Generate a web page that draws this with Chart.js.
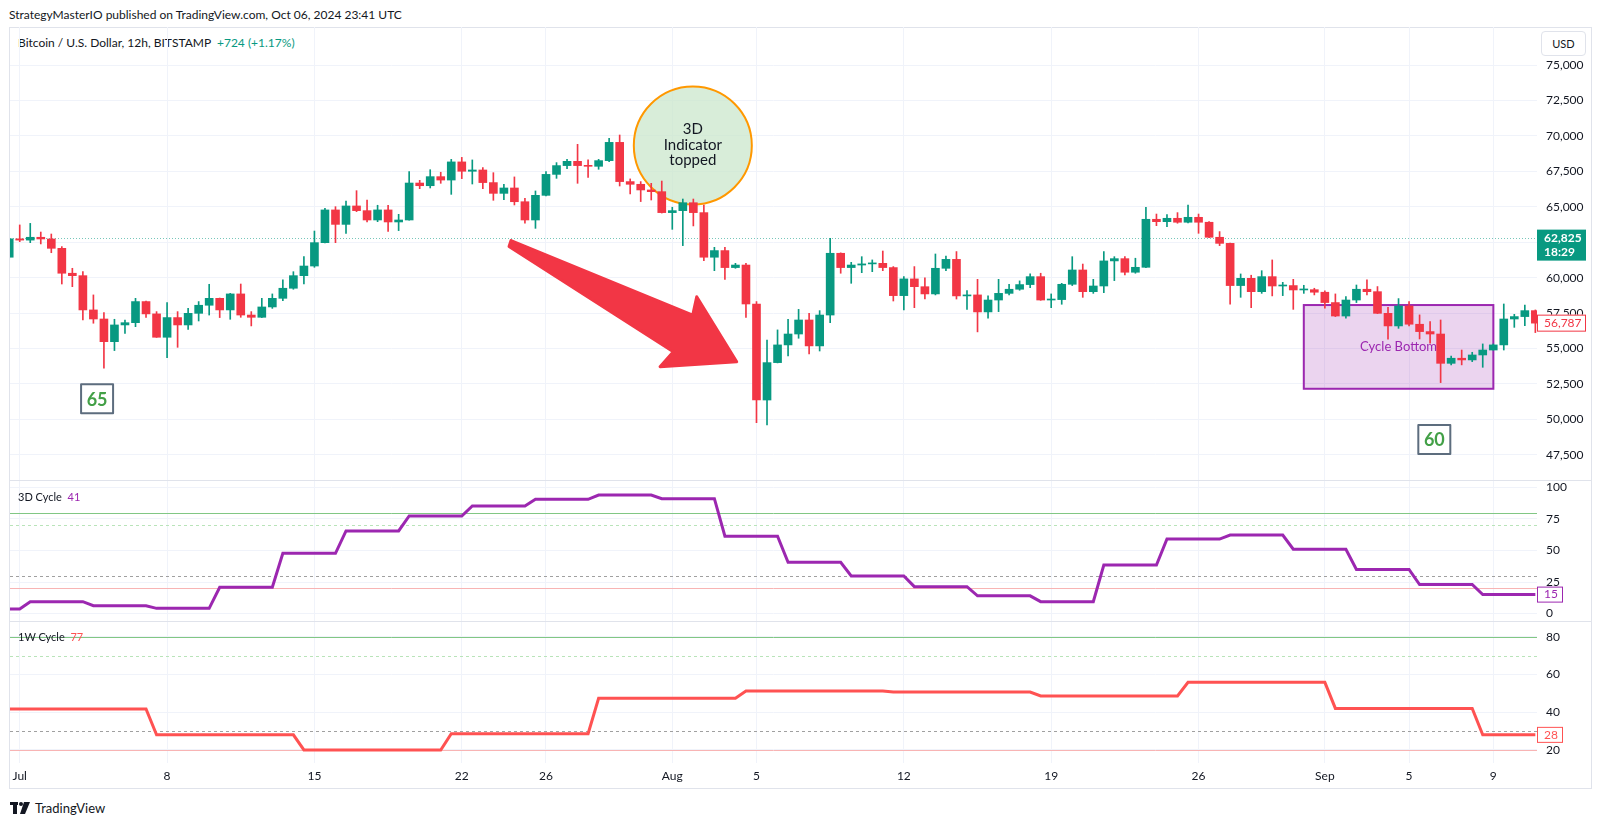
<!DOCTYPE html>
<html>
<head>
<meta charset="utf-8">
<script src="https://cdn.jsdelivr.net/npm/chart.js@4.4.1/dist/chart.umd.min.js"></script>
<style>
  body { margin: 0; width: 1600px; height: 825px; background: #fff; position: relative; overflow: hidden;
         font-family: Lato, "Noto Sans", sans-serif; color: #131722; }
  canvas { position: absolute; left: 0; }
  .txt { position: absolute; white-space: nowrap; font-size: 12px; line-height: 16px; }
  .line { position: absolute; background: #e0e3eb; }
  #usd { position: absolute; left: 1541px; top: 31px; width: 43px; height: 23px; border: 1px solid #e0e3eb;
         border-radius: 4px; font-size: 11px; line-height: 23px; text-align: center; }
  #logo { position: absolute; left: 10px; top: 800px; font-size: 13px; line-height: 16px; display: flex; align-items: center; }
</style>
</head>
<body>

<div class="txt" style="left:9px;top:7px">StrategyMasterIO published on TradingView.com, Oct 06, 2024 23:41 UTC</div>
<div class="line" style="left:10px;top:27px;width:1582px;height:1px"></div>
<div class="txt" style="left:18px;top:35px">Bitcoin / U.S. Dollar, 12h, BITSTAMP&nbsp; <span style="color:#089981">+724 (+1.17%)</span></div>
<div id="usd">USD</div>

<canvas id="priceChart" width="1600" height="453" style="top:27px;width:1600px;height:453px"></canvas>
<canvas id="cycle3dChart" width="1600" height="141" style="top:480px;width:1600px;height:141px"></canvas>
<canvas id="cycle1wChart" width="1600" height="167" style="top:621px;width:1600px;height:167px"></canvas>

<div class="line" style="left:10px;top:480px;width:1582px;height:1px"></div>
<div class="line" style="left:10px;top:621px;width:1582px;height:1px"></div>
<div class="line" style="left:10px;top:788px;width:1582px;height:1px"></div>
<div class="line" style="left:9px;top:27px;width:1px;height:762px"></div>
<div class="line" style="left:1591px;top:27px;width:1px;height:762px"></div>

<div class="txt" style="left:18px;top:489px;font-size:11px">3D Cycle&nbsp; <span style="color:#9c27b0">41</span></div>
<div class="txt" style="left:18px;top:629px;font-size:11px">1W Cycle&nbsp; <span style="color:#ff5252">77</span></div>

<div id="logo">
  <svg width="22" height="12" viewBox="0 0 22 12"><rect x="0" y="0" width="8" height="3" fill="#131722"/><rect x="3" y="0" width="4" height="12" fill="#131722"/><circle cx="11" cy="2" r="2" fill="#131722"/><polygon points="14,0 20,0 15,12 10,12" fill="#131722"/></svg>
  <span style="margin-left:3px">TradingView</span>
</div>

<script>
// ---------- DATA (12h candles, Jun 30 12:00 -> Sep 11 00:00) ----------

const open = [
  61440, 62740, 62650, 62850, 62730, 62070, 60310, 60140, 57720, 57080,
  55480, 56660, 56820, 58310, 57440, 55790, 57180, 56660, 57480, 58050,
  58540, 57720, 58850, 57360, 57200, 57930, 58540, 59250, 60140, 60820,
  62470, 64780, 63760, 65060, 64730, 64070, 64780, 63930, 64070, 66680,
  66490, 67130, 66890, 68170, 67510, 67600, 66710, 65950, 66330, 65360,
  64070, 65810, 67290, 67910, 68210, 67910, 67860, 68260, 69550, 66780,
  66590, 66190, 66070, 64590, 64730, 65290, 64590, 61440, 61910, 60710,
  60890, 58140, 51360, 54000, 55250, 56020, 57010, 55180, 57360, 61720,
  60710, 60890, 60970, 61010, 60710, 58730, 59910, 59360, 58850, 60660,
  61290, 58710, 58780, 57580, 58420, 58890, 59180, 59510, 60070, 58420,
  58450, 59530, 60540, 59010, 59410, 61180, 61340, 60380, 60730, 64120,
  63950, 64190, 63910, 64260, 63910, 62850, 62420, 59440, 59950, 59010,
  60070, 59410, 59440, 59130, 59150, 58970, 58240, 57290, 58420, 59180,
  59010, 57480, 56590, 58000, 56710, 56190, 56020, 53950, 54310, 54190,
  54540, 54890, 55250, 57080, 57250, 57670
];
const high = [
  62740, 63720, 63830, 63220, 63080, 62190, 60660, 60420, 58780, 57530,
  57060, 57010, 58540, 58350, 57600, 58240, 57600, 57840, 58310, 59530,
  58560, 58890, 59550, 57600, 58540, 58850, 59840, 60420, 61480, 63290,
  64890, 65010, 65410, 66140, 65480, 65110, 65110, 64470, 67480, 66870,
  67620, 67440, 68350, 68490, 68310, 67770, 67410, 66590, 67110, 65600,
  66120, 67480, 68120, 68350, 69410, 68310, 68350, 69840, 70070, 66970,
  66780, 66660, 66820, 64970, 65550, 65550, 65130, 62140, 62140, 61010,
  61010, 58310, 55600, 56310, 57060, 57760, 57480, 57670, 62780, 61750,
  61080, 61480, 61250, 61880, 60780, 60070, 60780, 59980, 61670, 61530,
  61840, 59080, 59880, 58710, 59880, 59530, 59770, 60260, 60310, 58850,
  59600, 61480, 60960, 59880, 61840, 61480, 61480, 61370, 64970, 64490,
  64450, 64590, 65130, 64490, 63950, 63250, 62440, 60260, 60170, 60490,
  61250, 59670, 59880, 59460, 59250, 59060, 58850, 58660, 59480, 59840,
  59370, 57910, 58520, 58310, 57370, 56890, 57010, 54470, 54890, 54730,
  55320, 55320, 58140, 57410, 58070, 57720
];
const low = [
  61300, 62540, 62470, 62380, 61760, 59550, 59360, 57010, 56780, 53600,
  54850, 56070, 56540, 57200, 55780, 54350, 55080, 56350, 56940, 57360,
  57180, 57060, 57200, 56590, 57180, 57830, 58380, 59180, 59550, 60730,
  62450, 62470, 63130, 64660, 63930, 63950, 63270, 63320, 64050, 66280,
  66330, 66660, 65880, 66990, 66610, 66280, 65460, 65510, 65130, 63840,
  63480, 65770, 67010, 67690, 66660, 67080, 67650, 68190, 66470, 65910,
  65370, 65480, 64560, 63410, 62260, 63650, 61200, 60490, 59880, 60660,
  57200, 49760, 49600, 53980, 54470, 55720, 54610, 54820, 56820, 60310,
  59600, 60350, 60420, 60490, 58350, 57720, 57880, 58490, 58780, 60490,
  58490, 57760, 56170, 57130, 57600, 58780, 59110, 59290, 58400, 57880,
  58120, 59440, 58610, 58890, 58940, 59790, 60190, 60310, 60700, 63670,
  63600, 63840, 63860, 63130, 62830, 62260, 58120, 58610, 57880, 58890,
  58710, 58730, 57760, 58890, 58780, 57840, 57250, 57130, 58240, 58780,
  57460, 55650, 56420, 56590, 55670, 55370, 52590, 53840, 53840, 54070,
  53670, 54880, 54890, 56490, 56610, 56120
];
const close = [
  62740, 62650, 62850, 62730, 62070, 60310, 60140, 57720, 57080, 55480,
  56660, 56820, 58310, 57440, 55790, 57180, 56660, 57480, 58050, 58540,
  57720, 58850, 57360, 57200, 57930, 58540, 59250, 60140, 60820, 62470,
  64780, 63760, 65060, 64730, 64070, 64780, 63930, 64070, 66680, 66490,
  67130, 66890, 68170, 67510, 67600, 66710, 65950, 66330, 65360, 64070,
  65810, 67290, 67910, 68210, 67910, 67860, 68260, 69550, 66780, 66590,
  66190, 66070, 64590, 64730, 65290, 64590, 61440, 61910, 60710, 60890,
  58140, 51360, 54000, 55250, 56020, 57010, 55180, 57360, 61720, 60710,
  60890, 60970, 61010, 60710, 58730, 59910, 59360, 58850, 60660, 61290,
  58710, 58780, 57580, 58420, 58890, 59180, 59510, 60070, 58420, 58450,
  59530, 60540, 59010, 59410, 61180, 61340, 60380, 60730, 64120, 63950,
  64190, 63910, 64260, 63910, 62850, 62420, 59440, 59950, 59010, 60070,
  59410, 59440, 59130, 59150, 58970, 58240, 57290, 58420, 59180, 59010,
  57480, 56590, 58000, 56710, 56190, 56020, 53950, 54310, 54190, 54540,
  54890, 55250, 57080, 57250, 57670, 56787
];

// 3D Cycle indicator, one value per 12h bar
const cycle3d = [
  3.6, 3.6,
  9.4, 9.4, 9.4, 9.4, 9.4, 9.4,
  6.2, 6.2, 6.2, 6.2, 6.2, 6.2,
  4.1, 4.1, 4.1, 4.1, 4.1, 4.1,
  20.8, 20.8, 20.8, 20.8, 20.8, 20.8,
  47.8, 47.8, 47.8, 47.8, 47.8, 47.8,
  65.5, 65.5, 65.5, 65.5, 65.5, 65.5,
  77.4, 77.4, 77.4, 77.4, 77.4, 77.4,
  85.3, 85.3, 85.3, 85.3, 85.3, 85.3,
  90.6, 90.6, 90.6, 90.6, 90.6, 90.6,
  94, 94, 94, 94, 94, 94,
  91.1, 91.1, 91.1, 91.1, 91.1, 91.1,
  61.3, 61.3, 61.3, 61.3, 61.3, 61.3,
  40.6, 40.6, 40.6, 40.6, 40.6, 40.6,
  29.8, 29.8, 29.8, 29.8, 29.8, 29.8,
  21.3, 21.3, 21.3, 21.3, 21.3, 21.3,
  14, 14, 14, 14, 14, 14,
  9.4, 9.4, 9.4, 9.4, 9.4, 9.4,
  38.5, 38.5, 38.5, 38.5, 38.5, 38.5,
  59.1, 59.1, 59.1, 59.1, 59.1, 59.1,
  62.3, 62.3, 62.3, 62.3, 62.3, 62.3,
  51, 51, 51, 51, 51, 51,
  35, 35, 35, 35, 35, 35,
  23, 23, 23, 23, 23, 23,
  15, 15, 15, 15, 15, 15
];

// 1W Cycle indicator, one value per 12h bar
const cycle1w = [
  41.7, 41.7, 41.7, 41.7, 41.7, 41.7, 41.7, 41.7, 41.7, 41.7, 41.7, 41.7, 41.7, 41.7,
  28, 28, 28, 28, 28, 28, 28, 28, 28, 28, 28, 28, 28, 28,
  20, 20, 20, 20, 20, 20, 20, 20, 20, 20, 20, 20, 20, 20,
  28.6, 28.6, 28.6, 28.6, 28.6, 28.6, 28.6, 28.6, 28.6, 28.6, 28.6, 28.6, 28.6, 28.6,
  47.4, 47.4, 47.4, 47.4, 47.4, 47.4, 47.4, 47.4, 47.4, 47.4, 47.4, 47.4, 47.4, 47.4,
  51.2, 51.2, 51.2, 51.2, 51.2, 51.2, 51.2, 51.2, 51.2, 51.2, 51.2, 51.2, 51.2, 51.2,
  50.7, 50.7, 50.7, 50.7, 50.7, 50.7, 50.7, 50.7, 50.7, 50.7, 50.7, 50.7, 50.7, 50.7,
  48.6, 48.6, 48.6, 48.6, 48.6, 48.6, 48.6, 48.6, 48.6, 48.6, 48.6, 48.6, 48.6, 48.6,
  55.8, 55.8, 55.8, 55.8, 55.8, 55.8, 55.8, 55.8, 55.8, 55.8, 55.8, 55.8, 55.8, 55.8,
  42, 42, 42, 42, 42, 42, 42, 42, 42, 42, 42, 42, 42, 42,
  28, 28, 28, 28, 28, 28
];

// x-axis ticks (bar index -> label)
const tickIdx = [1, 15, 29, 43, 51, 63, 71, 85, 99, 113, 125, 133, 141];
const tickText = ["Jul", "8", "15", "22", "26", "Aug", "5", "12", "19", "26", "Sep", "5", "9"];

const priceTicks = [47500, 50000, 52500, 55000, 57500, 60000, 62500, 65000, 67500, 70000, 72500, 75000];
const cycle3dTicks = [0, 25, 50, 75, 100];
const cycle1wTicks = [20, 40, 60, 80];

const lastPrice = 62825;
const lastClose = 56787;

// ---------- STYLE ----------
const UP = "#089981";
const DOWN = "#f23645";
const GRID = "#f0f3fa";
const TEXT = "#131722";
const FONT = "Lato, 'Noto Sans', sans-serif";

const levelLines = [
  { v: 80, color: "#81c784", dash: [] },
  { v: 70, color: "#b9e4b9", dash: [3, 3] },
  { v: 30, color: "#a0a0a0", dash: [3, 3] },
  { v: 20, color: "#f8b4b4", dash: [] }
];

function timeAxis(showLabels) {
  return {
    type: "linear",
    min: 0.076,
    max: 145.156,
    offset: false,
    afterBuildTicks: s => { s.ticks = tickIdx.map(v => ({ value: v })); },
    afterFit: s => { s.height = showLabels ? 25 : 0; s.paddingLeft = 0; s.paddingRight = 0; },
    grid: { color: GRID, drawTicks: false, offset: false },
    border: { display: false },
    ticks: {
      display: showLabels, autoSkip: false, maxRotation: 0, padding: 6,
      font: { family: FONT, size: 12 }, color: TEXT,
      callback: v => tickText[tickIdx.indexOf(v)]
    }
  };
}

function valueAxis(min, max, ticks, fmt) {
  return {
    position: "right",
    min: min,
    max: max,
    afterBuildTicks: s => { s.ticks = ticks.map(v => ({ value: v })); },
    afterFit: s => { s.width = 63; s.paddingTop = 0; s.paddingBottom = 0; },
    grid: { color: GRID, drawTicks: false },
    border: { display: false },
    ticks: { padding: 9, font: { family: FONT, size: 12 }, color: TEXT, callback: fmt }
  };
}

const baseOptions = {
  responsive: false,
  animation: false,
  layout: { padding: { left: 10, right: 0, top: 0, bottom: 0 } },
  plugins: { legend: { display: false }, tooltip: { enabled: false } }
};

function labelBox(ctx, x, y, w, h, fill, stroke, lines, color, bold) {
  ctx.fillStyle = fill;
  ctx.fillRect(x, y, w, h);
  if (stroke) {
    ctx.strokeStyle = stroke;
    ctx.lineWidth = 1;
    ctx.strokeRect(x + 0.5, y + 0.5, w - 1, h - 1);
  }
  ctx.fillStyle = color;
  ctx.font = (bold ? "bold " : "") + "12px " + FONT;
  ctx.textAlign = "left";
  ctx.textBaseline = "middle";
  lines.forEach(l => ctx.fillText(l.t, x + 7, l.y));
}

// ---------- PRICE PANE ----------

// drawings on the price pane, in data coordinates (bar index, price)
const arrowX = [47.68, 64.94, 65.32, 69.12, 61.84, 63.10, 47.49];
const arrowY = [62620, 57360, 58651, 54061, 53708, 54767, 62196];
const circleAt = { x: 64.95, y: 69330, r: 59 };
const cycleBox = { x0: 123, x1: 141.01, y0: 58065, y1: 52154 };
const tags = [
  { x: 8.35, y: 51441, text: "65" },
  { x: 135.4, y: 48567, text: "60" }
];

const priceDrawings = {
  id: "priceDrawings",
  beforeDatasetsDraw(chart) {
    const { ctx, chartArea: a, scales: { x, y } } = chart;
    ctx.save();
    ctx.beginPath();
    ctx.rect(a.left, a.top, a.width, a.height);
    ctx.clip();

    // current price dotted line
    const py = Math.round(y.getPixelForValue(lastPrice)) + 0.5;
    ctx.strokeStyle = "rgba(8,153,129,0.55)";
    ctx.lineWidth = 1;
    ctx.setLineDash([1, 2]);
    ctx.beginPath();
    ctx.moveTo(a.left, py);
    ctx.lineTo(a.right, py);
    ctx.stroke();
    ctx.setLineDash([]);

    // cycle bottom box
    const bx0 = x.getPixelForValue(cycleBox.x0), bx1 = x.getPixelForValue(cycleBox.x1);
    const by0 = y.getPixelForValue(cycleBox.y0), by1 = y.getPixelForValue(cycleBox.y1);
    ctx.fillStyle = "rgba(156,39,176,0.2)";
    ctx.fillRect(bx0, by0, bx1 - bx0, by1 - by0);
    ctx.strokeStyle = "#9c27b0";
    ctx.lineWidth = 2;
    ctx.strokeRect(bx0, by0, bx1 - bx0, by1 - by0);
    ctx.fillStyle = "#9c27b0";
    ctx.font = "13px " + FONT;
    ctx.textAlign = "center";
    ctx.textBaseline = "middle";
    ctx.fillText("Cycle Bottom", (bx0 + bx1) / 2, (by0 + by1) / 2);

    // "3D Indicator topped" bubble
    const cx = x.getPixelForValue(circleAt.x), cy = y.getPixelForValue(circleAt.y);
    ctx.beginPath();
    ctx.arc(cx, cy, circleAt.r, 0, Math.PI * 2);
    ctx.fillStyle = "rgba(200,230,201,0.7)";
    ctx.fill();
    ctx.strokeStyle = "#ff9800";
    ctx.lineWidth = 2;
    ctx.stroke();
    ctx.fillStyle = TEXT;
    ctx.font = "15px " + FONT;
    ctx.fillText("3D", cx, cy - 16);
    ctx.fillText("Indicator", cx, cy);
    ctx.fillText("topped", cx, cy + 15);

    ctx.restore();
  },
  afterDatasetsDraw(chart) {
    const { ctx, scales: { x, y } } = chart;
    ctx.save();

    // red arrow
    ctx.beginPath();
    arrowX.forEach((v, k) => {
      const px = x.getPixelForValue(v), py = y.getPixelForValue(arrowY[k]);
      if (k === 0) ctx.moveTo(px, py); else ctx.lineTo(px, py);
    });
    ctx.closePath();
    ctx.fillStyle = DOWN;
    ctx.strokeStyle = DOWN;
    ctx.lineJoin = "round";
    ctx.lineWidth = 3;
    ctx.fill();
    ctx.stroke();

    // cycle length tags
    tags.forEach(t => {
      const px = x.getPixelForValue(t.x), py = y.getPixelForValue(t.y);
      ctx.fillStyle = "#ffffff";
      ctx.fillRect(px - 16, py - 14.5, 32, 29);
      ctx.strokeStyle = "#5d6d7e";
      ctx.lineWidth = 2;
      ctx.strokeRect(px - 16, py - 14.5, 32, 29);
      ctx.fillStyle = "#43a047";
      ctx.font = "bold 18px " + FONT;
      ctx.textAlign = "center";
      ctx.textBaseline = "middle";
      ctx.fillText(t.text, px, py + 1);
    });
    ctx.restore();
  },
  afterDraw(chart) {
    const { ctx, chartArea: a, scales: { y } } = chart;
    ctx.save();
    const py = y.getPixelForValue(lastPrice);
    labelBox(ctx, a.right, py - 8, 49, 31, UP, null,
      [{ t: "62,825", y: py + 1 }, { t: "18:29", y: py + 15 }], "#ffffff", true);
    const cy = y.getPixelForValue(lastClose);
    labelBox(ctx, a.right, cy - 8.5, 49, 17, "#ffffff", DOWN, [{ t: "56,787", y: cy }], DOWN, false);
    ctx.restore();
  }
};

const barColors = open.map((o, k) => (close[k] >= o ? UP : DOWN));

new Chart(document.getElementById("priceChart").getContext("2d"), {
  type: "bar",
  data: {
    datasets: [
      {
        label: "Body",
        data: open.map((o, k) => ({ x: k, y: [o, close[k]] })),
        backgroundColor: barColors,
        barThickness: 8,
        minBarLength: 1,
        grouped: false,
        order: 0
      },
      {
        label: "Wick",
        data: low.map((l, k) => ({ x: k, y: [l, high[k]] })),
        backgroundColor: barColors,
        barThickness: 1,
        grouped: false,
        order: 1
      }
    ]
  },
  options: {
    ...baseOptions,
    scales: {
      x: timeAxis(false),
      y: valueAxis(45713, 77695, priceTicks, v => v.toLocaleString("en-US"))
    }
  },
  plugins: [priceDrawings]
});

// ---------- INDICATOR PANES ----------

function levelsPlugin(id, lastValue, color) {
  return {
    id: id,
    beforeDatasetsDraw(chart) {
      const { ctx, chartArea: a, scales: { y } } = chart;
      ctx.save();
      ctx.lineWidth = 1;
      levelLines.forEach(l => {
        const py = Math.round(y.getPixelForValue(l.v)) + 0.5;
        ctx.strokeStyle = l.color;
        ctx.setLineDash(l.dash);
        ctx.beginPath();
        ctx.moveTo(a.left, py);
        ctx.lineTo(a.right, py);
        ctx.stroke();
      });
      ctx.restore();
    },
    afterDraw(chart) {
      const { ctx, chartArea: a, scales: { y } } = chart;
      ctx.save();
      const py = y.getPixelForValue(lastValue);
      labelBox(ctx, a.right, py - 8, 26, 16, "#ffffff", color, [{ t: String(lastValue), y: py }], color, false);
      ctx.restore();
    }
  };
}

new Chart(document.getElementById("cycle3dChart").getContext("2d"), {
  type: "line",
  data: {
    datasets: [{
      label: "3D Cycle",
      data: cycle3d.map((v, k) => ({ x: k, y: v })),
      borderColor: "#9c27b0",
      borderWidth: 3,
      pointRadius: 0,
      tension: 0
    }]
  },
  options: {
    ...baseOptions,
    scales: {
      x: timeAxis(false),
      y: valueAxis(-5.95, 105.95, cycle3dTicks, v => String(v))
    }
  },
  plugins: [levelsPlugin("levels3d", cycle3d[cycle3d.length - 1], "#9c27b0")]
});

new Chart(document.getElementById("cycle1wChart").getContext("2d"), {
  type: "line",
  data: {
    datasets: [{
      label: "1W Cycle",
      data: cycle1w.map((v, k) => ({ x: k, y: v })),
      borderColor: "#ff5252",
      borderWidth: 3,
      pointRadius: 0,
      tension: 0
    }]
  },
  options: {
    ...baseOptions,
    scales: {
      x: timeAxis(true),
      y: valueAxis(13.1, 88.3, cycle1wTicks, v => String(v))
    }
  },
  plugins: [levelsPlugin("levels1w", cycle1w[cycle1w.length - 1], "#ff5252")]
});
</script>
</body>
</html>
